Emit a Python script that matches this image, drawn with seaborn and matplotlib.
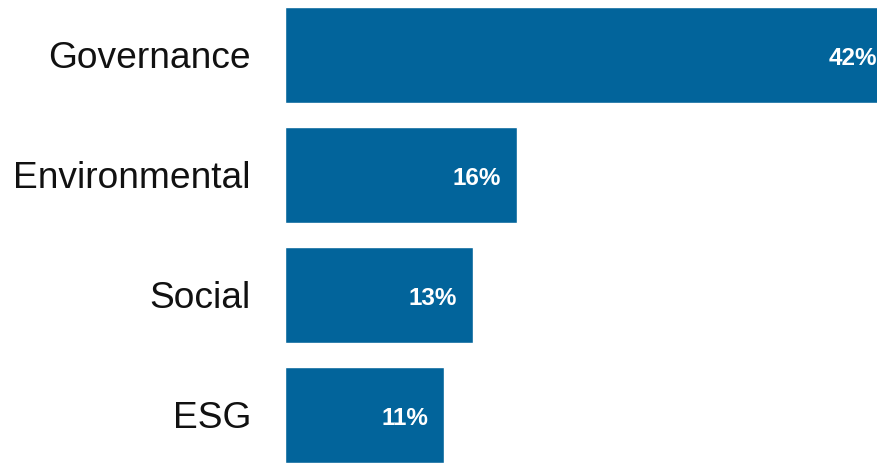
import matplotlib
matplotlib.use("Agg")
import matplotlib.pyplot as plt
import seaborn as sns
import pandas as pd

categories = ["Governance", "Environmental", "Social", "ESG"]
values = [42, 16, 13, 11]
value_labels = ["42%", "16%", "13%", "11%"]

bar_color = "#02649b"

sns.set_theme(style="white")
plt.rcParams["font.family"] = ["Liberation Sans", "DejaVu Sans"]

df = pd.DataFrame({"category": categories, "value": values})

fig = plt.figure(figsize=(8.78, 4.63), dpi=100)
ax = fig.add_axes([285 / 878, 0, 1 - 285 / 878, 1])

sns.barplot(data=df, y="category", x="value", orient="h", color=bar_color,
            saturation=1, width=0.8, ax=ax)

ax.set_xlim(0, 40.96)
ax.set_ylim(3.4, -0.458)
ax.set_xlabel("")
ax.set_ylabel("")
ax.set_xticks([])
ax.tick_params(axis="y", length=0, pad=24.5, labelsize=26.7, labelcolor="#111111")
for s in ax.spines.values():
    s.set_visible(False)

# value labels inside the bar ends
for i, (v, lab) in enumerate(zip(values, value_labels)):
    ax.annotate(lab, xy=(v, i), xytext=(-16, -4), textcoords="offset pixels",
                ha="right", va="center", color="white", fontsize=17.5,
                fontweight="bold", annotation_clip=False)

fig.savefig("out.png", dpi=100)
